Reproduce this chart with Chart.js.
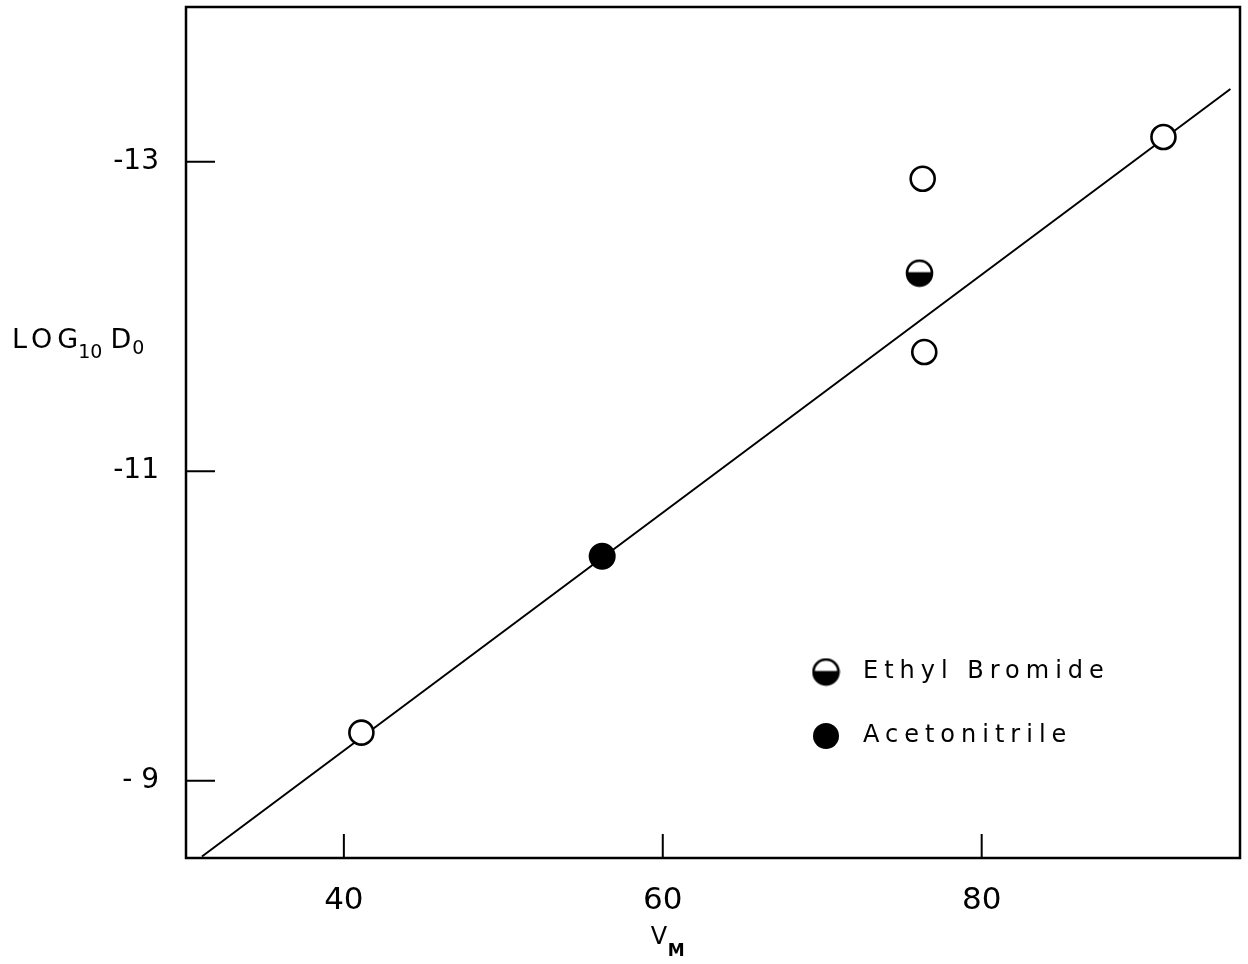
<!DOCTYPE html>
<html>
<head>
<meta charset="utf-8">
<script src="https://cdn.jsdelivr.net/npm/chart.js@4"></script>
<style>
    body { margin: 0; background: #fff; }
    #wrap { width: 1248px; height: 964px; position: relative; }
</style>
</head>
<body>
<div id="wrap"><canvas id="diffChart"></canvas></div>
<script>
// data (x = V_M, y = log10 D0)
const xTicks = [40, 60, 80]
const yTicks = [-13, -11, -9]
const yTickLabels = ['-13', '-11', '- 9']

const openX = [41.1, 76.3, 76.4, 91.4]
const openY = [-9.31, -12.89, -11.77, -13.16]

const ethylX = [76.1]
const ethylY = [-12.28]

const acetoX = [56.2]
const acetoY = [-10.45]

// fitted straight line, endpoints
const fitX = [31.1, 95.6]
const fitY = [-8.51, -13.47]

const FONT = "'DejaVu Sans', sans-serif"

function toPoints(xs, ys) {
    return xs.map((x, i) => ({ x: x, y: ys[i] }))
}

// half filled circle (lower half black)
function makeHalfCircle(r) {
    const c = document.createElement('canvas')
    const size = Math.ceil(r * 2 + 4)
    c.width = size
    c.height = size
    const ctx = c.getContext('2d')
    const m = size / 2
    ctx.beginPath()
    ctx.arc(m, m, r, 0, Math.PI * 2)
    ctx.fillStyle = '#fff'
    ctx.fill()
    ctx.save()
    ctx.beginPath()
    ctx.arc(m, m, r, 0, Math.PI * 2)
    ctx.clip()
    ctx.fillStyle = '#000'
    ctx.fillRect(0, m - 1, size, size)
    ctx.restore()
    ctx.beginPath()
    ctx.arc(m, m, r, 0, Math.PI * 2)
    ctx.lineWidth = 2.6
    ctx.strokeStyle = '#000'
    ctx.stroke()
    return c
}

const halfCircle = makeHalfCircle(12.5)

function noPadding(scale) {
    scale.paddingTop = 0
    scale.paddingBottom = 0
    scale.paddingLeft = 0
    scale.paddingRight = 0
}

// frame, inside ticks, horizontal axis titles, legend
const decorPlugin = {
    id: 'decor',
    afterDraw(chart) {
        const ctx = chart.ctx
        const area = chart.chartArea
        const xs = chart.scales.x
        const ys = chart.scales.y

        ctx.save()
        ctx.strokeStyle = '#000'
        ctx.lineWidth = 2.5
        ctx.strokeRect(area.left, area.top, area.right - area.left, area.bottom - area.top)

        ctx.lineWidth = 2
        ctx.beginPath()
        xTicks.forEach(v => {
            const px = xs.getPixelForValue(v)
            ctx.moveTo(px, area.bottom)
            ctx.lineTo(px, area.bottom - 24)
        })
        yTicks.forEach(v => {
            const py = ys.getPixelForValue(v)
            ctx.moveTo(area.left, py)
            ctx.lineTo(area.left + 29, py)
        })
        ctx.stroke()

        ctx.fillStyle = '#000'
        ctx.textBaseline = 'alphabetic'
        ctx.textAlign = 'left'

        // LOG10 D0
        ctx.letterSpacing = '5px'
        ctx.font = `27px ${FONT}`
        let x = 12
        const base = 348
        ctx.fillText('LOG', x, base)
        x += ctx.measureText('LOG').width
        ctx.font = `19px ${FONT}`
        ctx.letterSpacing = '0px'
        ctx.fillText('10', x - 5, base + 10)
        x += ctx.measureText('10').width + 3
        ctx.font = `27px ${FONT}`
        ctx.fillText('D', x, base)
        x += ctx.measureText('D').width + 1
        ctx.font = `19px ${FONT}`
        ctx.fillText('0', x, base + 6)

        // V_M
        ctx.font = `24px ${FONT}`
        const vx = xs.getPixelForValue(60) - 12
        ctx.fillText('V', vx, 944)
        ctx.font = `bold 17px ${FONT}`
        ctx.fillText('M', vx + 17, 956)

        // legend
        const lx = area.left + 640
        const rows = [
            { label: 'Ethyl Bromide', y: area.top + 665, kind: 'half' },
            { label: 'Acetonitrile', y: area.top + 729, kind: 'full' }
        ]
        ctx.letterSpacing = '6px'
        ctx.font = `24px ${FONT}`
        ctx.textBaseline = 'middle'
        rows.forEach(row => {
            if (row.kind === 'half') {
                ctx.drawImage(halfCircle, lx - halfCircle.width / 2, row.y - halfCircle.height / 2)
            } else {
                ctx.beginPath()
                ctx.arc(lx, row.y, 13, 0, Math.PI * 2)
                ctx.fill()
            }
            ctx.fillText(row.label, lx + 37, row.y)
        })
        ctx.restore()
    }
}

document.addEventListener('DOMContentLoaded', () => {
    const ctx = document.getElementById('diffChart').getContext('2d')
    new Chart(ctx, {
        type: 'scatter',
        data: {
            datasets: [
                {
                    label: 'fit',
                    data: toPoints(fitX, fitY),
                    showLine: true,
                    borderColor: '#000',
                    borderWidth: 2,
                    pointRadius: 0,
                    order: 10
                },
                {
                    label: 'open',
                    data: toPoints(openX, openY),
                    pointStyle: 'circle',
                    pointRadius: 12,
                    borderWidth: 2.6,
                    borderColor: '#000',
                    backgroundColor: '#fff',
                    order: 1
                },
                {
                    label: 'Ethyl Bromide',
                    data: toPoints(ethylX, ethylY),
                    pointStyle: halfCircle,
                    order: 1
                },
                {
                    label: 'Acetonitrile',
                    data: toPoints(acetoX, acetoY),
                    pointStyle: 'circle',
                    pointRadius: 13.5,
                    borderWidth: 0,
                    backgroundColor: '#000',
                    order: 1
                }
            ]
        },
        options: {
            responsive: true,
            maintainAspectRatio: false,
            animation: false,
            layout: {
                autoPadding: false,
                padding: { top: 7, right: 8, left: 0, bottom: 0 }
            },
            plugins: {
                legend: { display: false },
                tooltip: { enabled: false }
            },
            scales: {
                x: {
                    type: 'linear',
                    min: 30.1,
                    max: 96.2,
                    afterBuildTicks: scale => {
                        scale.ticks = xTicks.map(v => ({ value: v }))
                    },
                    afterFit: scale => {
                        scale.height = 106
                        noPadding(scale)
                    },
                    grid: { display: false, drawTicks: false },
                    border: { display: false },
                    ticks: {
                        color: '#000',
                        padding: 24,
                        font: { family: FONT, size: 31 },
                        callback: v => String(v)
                    }
                },
                y: {
                    type: 'linear',
                    reverse: true,
                    min: -14,
                    max: -8.5,
                    afterBuildTicks: scale => {
                        scale.ticks = yTicks.map(v => ({ value: v }))
                    },
                    afterFit: scale => {
                        scale.width = 186
                        noPadding(scale)
                    },
                    grid: { display: false, drawTicks: false },
                    border: { display: false },
                    ticks: {
                        color: '#000',
                        padding: 27,
                        font: { family: FONT, size: 28 },
                        callback: v => yTickLabels[yTicks.indexOf(v)]
                    }
                }
            }
        },
        plugins: [decorPlugin]
    })
})
</script>
</body>
</html>
